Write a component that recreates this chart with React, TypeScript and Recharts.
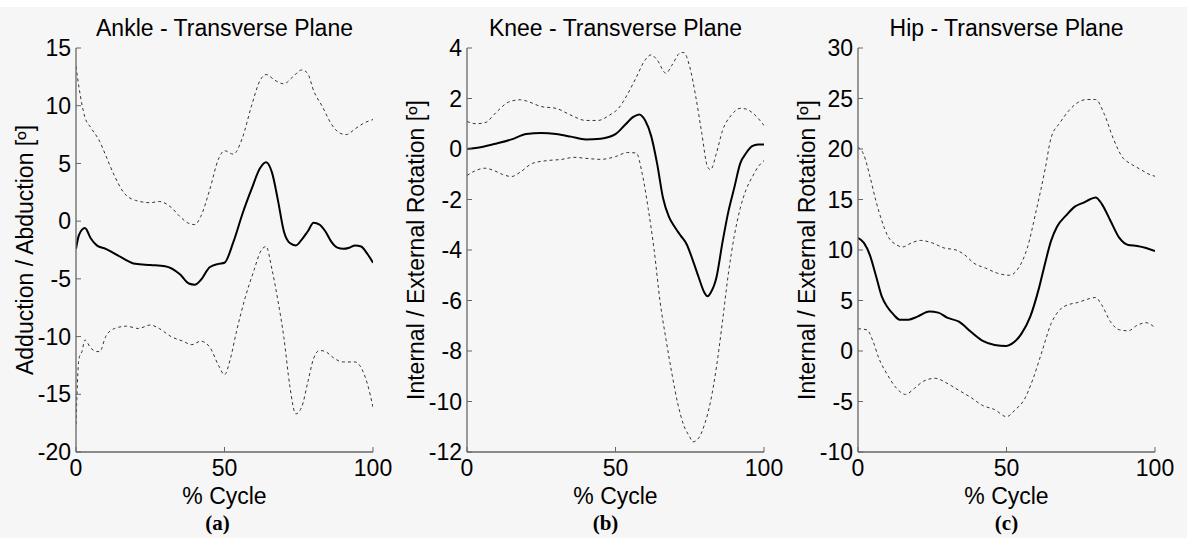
import React from 'react';
import { LineChart, Line, XAxis, YAxis } from 'recharts';

// ---------- Panel (a): Ankle ----------
const ankleMeanX = [0, 1, 3, 5, 7, 10, 15, 20, 25, 30, 35, 38, 40, 42, 45, 48, 50, 53, 56, 59, 62, 64, 66, 68, 70, 72, 74, 76, 78, 80, 82, 84, 86, 88, 90, 92, 94, 96, 98, 100];
const ankleMeanY = [-2.4, -1.2, -0.6, -1.5, -2.1, -2.4, -3.1, -3.7, -3.8, -3.9, -4.6, -5.4, -5.5, -5.1, -4.0, -3.7, -3.6, -1.8, 0.6, 2.7, 4.6, 5.1, 4.2, 1.8, -0.9, -1.9, -2.1, -1.6, -0.9, -0.15, -0.3, -0.9, -1.8, -2.3, -2.4, -2.3, -2.1, -2.2, -2.8, -3.6];
const ankleUpX = [0, 1, 3, 5, 8, 10, 13, 16, 20, 25, 28, 32, 35, 38, 40, 42, 45, 48, 50, 53, 56, 59, 62, 64, 67, 70, 73, 76, 78, 80, 83, 86, 89, 91, 94, 97, 100];
const ankleUpY = [13.4, 11.6, 9.0, 8.1, 6.9, 5.7, 3.9, 2.5, 1.8, 1.6, 1.7, 1.2, 0.4, -0.2, -0.3, 0.4, 2.7, 5.4, 6.1, 5.8, 7.2, 9.9, 12.2, 12.7, 12.2, 11.9, 12.5, 13.1, 12.8, 11.3, 9.9, 8.4, 7.6, 7.5, 8.0, 8.5, 8.8];
const ankleLoX = [0, 1, 2, 3, 5, 7, 8, 10, 13, 17, 21, 25, 28, 32, 36, 39, 42, 45, 48, 50, 52, 54, 57, 60, 62, 64, 66, 68, 70, 72, 74, 76, 78, 80, 82, 84, 87, 90, 94, 96, 98, 100];
const ankleLoY = [-17.6, -11.9, -11.3, -10.3, -11.0, -11.3, -11.3, -10.0, -9.3, -9.1, -9.3, -9.0, -9.3, -10.0, -10.4, -10.7, -10.4, -10.9, -12.5, -13.3, -11.9, -9.6, -6.6, -4.2, -2.7, -2.2, -4.2, -6.9, -10.1, -14.3, -16.7, -16.1, -14.0, -11.9, -11.2, -11.3, -11.9, -12.2, -12.2, -12.7, -14.0, -16.1];
const ankleTicks = [-20, -15, -10, -5, 0, 5, 10, 15];

// ---------- Panel (b): Knee ----------
const kneeMeanX = [0, 5, 10, 15, 20, 25, 30, 35, 40, 45, 50, 53, 56, 58, 60, 62, 64, 66, 68, 70, 72, 74, 76, 78, 80, 81, 82, 84, 86, 88, 90, 92, 94, 96, 98, 100];
const kneeMeanY = [0, 0.08, 0.22, 0.38, 0.59, 0.63, 0.59, 0.49, 0.38, 0.41, 0.59, 0.93, 1.27, 1.37, 1.13, 0.52, -0.57, -1.94, -2.69, -3.1, -3.44, -3.78, -4.4, -5.08, -5.7, -5.83, -5.7, -5.08, -3.71, -2.48, -1.53, -0.57, -0.16, 0.11, 0.18, 0.18];
const kneeUpX = [0, 3, 6, 10, 14, 18, 21, 25, 30, 35, 40, 44, 48, 51, 54, 57, 60, 62, 64, 67, 69, 72, 73, 75, 77, 79, 81, 82, 84, 86, 89, 92, 94, 97, 100];
const kneeUpY = [1.09, 1.0, 1.04, 1.47, 1.86, 1.95, 1.86, 1.68, 1.61, 1.34, 1.13, 1.13, 1.34, 1.61, 2.16, 2.84, 3.53, 3.73, 3.53, 3.0, 3.32, 3.82, 3.82, 3.25, 2.09, 0.66, -0.71, -0.82, -0.16, 0.72, 1.34, 1.61, 1.58, 1.34, 0.93];
const kneeLoX = [0, 3, 6, 9, 12, 15, 18, 22, 27, 32, 36, 40, 45, 50, 54, 57, 59, 61, 63, 65, 67, 69, 71, 73, 75, 76, 78, 80, 82, 84, 86, 88, 90, 92, 94, 96, 98, 100];
const kneeLoY = [-1.05, -0.85, -0.76, -0.85, -1.01, -1.09, -0.91, -0.57, -0.46, -0.41, -0.33, -0.37, -0.41, -0.3, -0.14, -0.16, -0.98, -2.35, -3.99, -6.04, -7.54, -8.9, -10.1, -10.95, -11.4, -11.6, -11.45, -10.9, -10.0, -8.63, -6.85, -4.94, -3.44, -2.35, -1.6, -1.12, -0.71, -0.46];
const kneeTicks = [-12, -10, -8, -6, -4, -2, 0, 2, 4];

// ---------- Panel (c): Hip ----------
const hipMeanX = [0, 2, 4, 6, 8, 10, 12, 14, 17, 20, 24, 27, 30, 34, 38, 42, 46, 50, 52, 55, 58, 61, 63, 65, 67, 70, 73, 76, 78, 80, 82, 85, 88, 91, 94, 97, 100];
const hipMeanY = [11.2, 10.7, 9.5, 7.5, 5.4, 4.3, 3.6, 3.1, 3.1, 3.4, 3.9, 3.8, 3.3, 2.9, 1.9, 1.0, 0.6, 0.5, 0.75, 1.7, 3.4, 6.3, 8.7, 10.9, 12.3, 13.4, 14.3, 14.7, 15.0, 15.2, 14.6, 12.9, 11.2, 10.5, 10.4, 10.2, 9.9];
const hipUpX = [0, 2, 4, 6, 8, 10, 13, 15, 18, 21, 25, 29, 33, 36, 39, 43, 47, 51, 54, 57, 60, 63, 65, 68, 71, 74, 77, 80, 83, 86, 89, 92, 95, 98, 100];
const hipUpY = [20.2, 19.4, 17.3, 14.9, 12.9, 11.4, 10.5, 10.3, 10.7, 10.95, 10.7, 10.2, 10.0, 9.5, 8.7, 8.2, 7.7, 7.5, 8.2, 10.2, 13.9, 18.0, 21.1, 22.6, 23.8, 24.6, 24.9, 24.9, 23.4, 21.0, 19.2, 18.5, 18.0, 17.5, 17.3];
const hipLoX = [0, 3, 5, 7, 10, 13, 16, 19, 22, 26, 30, 34, 38, 42, 46, 50, 53, 56, 59, 62, 65, 68, 71, 74, 77, 80, 82, 85, 88, 91, 94, 97, 100];
const hipLoY = [2.2, 2.1, 1.0, -0.7, -2.4, -3.7, -4.3, -3.7, -3.0, -2.7, -3.2, -3.9, -4.6, -5.4, -5.8, -6.5, -5.8, -4.8, -2.7, 0.0, 2.7, 4.1, 4.6, 4.8, 5.1, 5.3, 4.6, 2.9, 2.1, 2.0, 2.55, 2.8, 2.3];
const hipTicks = [-10, -5, 0, 5, 10, 15, 20, 25, 30];

const xTicks = [0, 50, 100];

const zip = (xs: number[], ys: number[]) => xs.map((x, i) => ({ x, y: ys[i] }));

const FONT = '"Liberation Sans", Arial, sans-serif';
const AXIS = '#666';
const PLOT_W = 297;
const PLOT_TOP = 48;
const PLOT_H = 404;
const Y_W = 76;

type PanelProps = {
  left: number;
  title: string;
  ylabel: string;
  sub: string;
  ticks: number[];
  mean: { x: number; y: number }[];
  up: { x: number; y: number }[];
  lo: { x: number; y: number }[];
  subOffset: number;
};

function Panel(p: PanelProps) {
  const domain: [number, number] = [p.ticks[0], p.ticks[p.ticks.length - 1]];
  const tickStyle = { fontSize: 23, fill: '#000', fontFamily: FONT };
  const cx = p.left + PLOT_W / 2;
  return (
    <>
      <div style={{ position: 'absolute', left: p.left - Y_W, top: 0 }}>
        <LineChart
          width={Y_W + PLOT_W + 40}
          height={538}
          margin={{ top: PLOT_TOP, right: 40, left: 0, bottom: 0 }}
        >
          <XAxis
            xAxisId="b"
            dataKey="x"
            type="number"
            domain={[0, 100]}
            ticks={xTicks}
            allowDataOverflow
            height={538 - PLOT_TOP - PLOT_H}
            stroke={AXIS}
            tickSize={-5}
            tickMargin={13}
            tick={tickStyle}
            tickLine={{ stroke: AXIS }}
            axisLine={{ stroke: AXIS, strokeWidth: 1.3 }}
          />
          <XAxis
            xAxisId="t"
            orientation="top"
            dataKey="x"
            type="number"
            domain={[0, 100]}
            ticks={xTicks}
            height={0}
            tickSize={-5}
            tick={false}
            stroke={AXIS}
            axisLine={{ stroke: AXIS, strokeWidth: 1.3 }}
          />
          <YAxis
            yAxisId="l"
            type="number"
            domain={domain}
            ticks={p.ticks}
            allowDataOverflow
            width={Y_W}
            interval={0}
            tickSize={-5}
            tickMargin={10}
            tick={tickStyle}
            stroke={AXIS}
            tickLine={{ stroke: AXIS }}
            axisLine={{ stroke: AXIS, strokeWidth: 1.3 }}
          />
          <YAxis
            yAxisId="r"
            orientation="right"
            type="number"
            domain={domain}
            ticks={p.ticks}
            width={0}
            interval={0}
            tickSize={-5}
            tick={false}
            stroke={AXIS}
            axisLine={{ stroke: AXIS, strokeWidth: 1.3 }}
          />
          <Line
            xAxisId="b"
            yAxisId="l"
            data={p.up}
            dataKey="y"
            type="monotone"
            stroke="#333"
            strokeWidth={1}
            strokeDasharray="3 3"
            dot={false}
            isAnimationActive={false}
          />
          <Line
            xAxisId="b"
            yAxisId="l"
            data={p.lo}
            dataKey="y"
            type="monotone"
            stroke="#333"
            strokeWidth={1}
            strokeDasharray="3 3"
            dot={false}
            isAnimationActive={false}
          />
          <Line
            xAxisId="b"
            yAxisId="l"
            data={p.mean}
            dataKey="y"
            type="monotone"
            stroke="#000"
            strokeWidth={2}
            dot={false}
            isAnimationActive={false}
          />
        </LineChart>
      </div>
      <div
        style={{
          position: 'absolute',
          left: cx - 200,
          width: 400,
          top: 17,
          textAlign: 'center',
          fontFamily: FONT,
          fontSize: 23,
          lineHeight: '23px',
          color: '#000',
          whiteSpace: 'nowrap',
        }}
      >
        {p.title}
      </div>
      <div
        style={{
          position: 'absolute',
          left: cx - 200,
          width: 400,
          top: 489,
          textAlign: 'center',
          fontFamily: FONT,
          fontSize: 23,
          lineHeight: '14px',
          color: '#000',
        }}
      >
        % Cycle
      </div>
      <div
        style={{
          position: 'absolute',
          left: cx - 100 + p.subOffset,
          width: 200,
          top: 513,
          textAlign: 'center',
          fontFamily: '"Liberation Serif", "Times New Roman", serif',
          fontWeight: 'bold',
          fontSize: 21,
          lineHeight: '20px',
          color: '#000',
        }}
      >
        {p.sub}
      </div>
      <div
        style={{
          position: 'absolute',
          left: p.left - 51 - 200,
          top: PLOT_TOP + PLOT_H / 2 - 12,
          width: 400,
          height: 24,
          textAlign: 'center',
          fontFamily: FONT,
          fontSize: 23,
          lineHeight: '24px',
          color: '#000',
          whiteSpace: 'nowrap',
          transform: 'rotate(-90deg)',
        }}
      >
        {p.ylabel}
      </div>
    </>
  );
}

export default function App() {
  return (
    <div
      style={{
        position: 'absolute',
        left: 0,
        top: 0,
        width: 1187,
        height: 538,
        background: '#f6f6f6',
        overflow: 'hidden',
      }}
    >
      <div style={{ position: 'absolute', left: 0, top: 0, width: 1187, height: 7, background: '#fff' }} />
      <Panel
        left={76}
        title="Ankle - Transverse Plane"
        ylabel="Adduction / Abduction [º]"
        sub="(a)"
        ticks={ankleTicks}
        mean={zip(ankleMeanX, ankleMeanY)}
        up={zip(ankleUpX, ankleUpY)}
        lo={zip(ankleLoX, ankleLoY)}
        subOffset={-7}
      />
      <Panel
        left={467}
        title="Knee - Transverse Plane"
        ylabel="Internal / External Rotation [º]"
        sub="(b)"
        ticks={kneeTicks}
        mean={zip(kneeMeanX, kneeMeanY)}
        up={zip(kneeUpX, kneeUpY)}
        lo={zip(kneeLoX, kneeLoY)}
        subOffset={-10}
      />
      <Panel
        left={858}
        title="Hip - Transverse Plane"
        ylabel="Internal / External Rotation [º]"
        sub="(c)"
        ticks={hipTicks}
        mean={zip(hipMeanX, hipMeanY)}
        up={zip(hipUpX, hipUpY)}
        lo={zip(hipLoX, hipLoY)}
        subOffset={0}
      />
    </div>
  );
}
